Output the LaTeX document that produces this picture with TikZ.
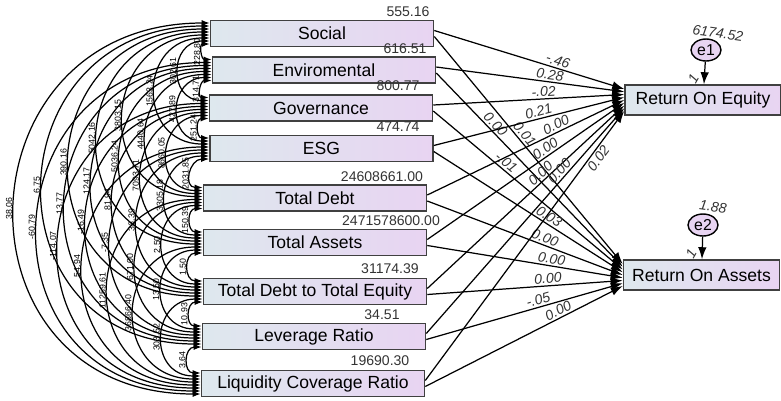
\documentclass[tikz,border=0pt]{standalone}
\usepackage{fontspec}
\setmainfont{Liberation Sans}
\usepackage{xcolor}
\usepackage{tikz}
\usetikzlibrary{shapes.geometric, arrows.meta, calc}
\definecolor{boxblue}{RGB}{222,232,238}
\definecolor{boxlilac}{RGB}{232,212,242}
\tikzset{
  varbox/.style={
    draw=black!75, line width=0.9pt, left color=boxblue, right color=boxlilac,
    minimum width=4.46cm, minimum height=0.52cm, inner sep=0pt,
    font=\fontsize{10}{12}\selectfont
  },
  outbox/.style={varbox, minimum width=3.12cm, minimum height=0.6cm},
  errnode/.style={ellipse, draw, line width=0.8pt, fill=boxlilac, minimum width=0.6cm,
    minimum height=0.44cm, inner sep=0pt, font=\fontsize{9}{10}\selectfont},
  varlab/.style={font=\fontsize{8}{9}\selectfont, text=black!80, inner sep=0pt},
  errlab/.style={font=\fontsize{8}{9}\selectfont\itshape, text=black!80, inner sep=0pt},
  pathlab/.style={font=\fontsize{8}{9}\selectfont\itshape, text=black!80, sloped, above, inner sep=1pt},
  regarrow/.style={-{Latex[length=2.4mm, width=1.7mm]}, line width=0.7pt},
  covarc/.style={{Latex[length=1.6mm, width=1.2mm]}-{Latex[length=1.6mm, width=1.2mm]}, line width=0.7pt},
  covlab/.style={font=\fontsize{5}{6}\selectfont, rotate=90, anchor=south, inner sep=1pt},
}
\begin{document}
\begin{tikzpicture}[x=0.02cm, y=-0.02cm]
  \useasboundingbox (0,0) rectangle (781,400);

  % Observed predictors
  \node[varbox] (b1) at (322,33.5) {Social};
  \node[varbox] (b2) at (324,70) {Enviromental};
  \node[varbox] (b3) at (321,108) {Governance};
  \node[varbox] (b4) at (321.5,148.5) {ESG};
  \node[varbox] (b5) at (315,198) {Total Debt};
  \node[varbox] (b6) at (315,242.5) {Total Assets};
  \node[varbox] (b7) at (315,291.5) {Total Debt to Total Equity};
  \node[varbox] (b8) at (314,336.5) {Leverage Ratio};
  \node[varbox] (b9) at (313,383.5) {Liquidity Coverage Ratio};

  % Variances
  \node[varlab] (v1) at (408,12) {555.16};
  \node[varlab] (v2) at (405,49) {616.51};
  \node[varlab] (v3) at (398,86) {800.77};
  \node[varlab] (v4) at (398,127) {474.74};
  \node[varlab] (v5) at (382,177) {24608661.00};
  \node[varlab] (v6) at (391,221) {2471578600.00};
  \node[varlab] (v7) at (390,269) {31174.39};
  \node[varlab] (v8) at (382,315) {34.51};
  \node[varlab] (v9) at (380,361) {19690.30};

  % Outcomes and errors
  \node[outbox] (roe) at (703,100) {Return On Equity};
  \node[outbox] (roa) at (701.5,275) {Return On Assets};
  \node[errnode] (e1) at (706,50) {e1};
  \node[errnode] (e2) at (703,225) {e2};
  \node[errlab, rotate=-8] (ev1) at (718,33) {6174.52};
  \node[errlab, rotate=-8] (ev2) at (713,207) {1.88};
  \draw[regarrow] (e1) -- node[errlab, pos=0.6, left=5pt, rotate=60] {1} (roe);
  \draw[regarrow] (e2) -- node[errlab, pos=0.6, left=5pt, rotate=60] {1} (roa);

  % Regression paths
  \foreach \i/\la/\pa/\lb/\pb in {1/-.46/0.64/0.01/0.45, 2/0.28/0.60/0.00/0.29,
      3/-.02/0.58/-.01/0.36, 4/0.21/0.56/0.03/0.59, 5/0.00/0.67/0.00/0.59,
      6/0.00/0.62/0.00/0.63, 7/0.00/0.60/0.00/0.62, 8/0.00/0.70/-.05/0.58} {
    \pgfmathsetmacro\ye{-11+2.75*(\i-1)}
    \draw[regarrow] ($(b\i.east)+(0,-3)$) -- node[pathlab, pos=\pa] {\la} ($(roe.west)+(0,\ye)$);
    \draw[regarrow] ($(b\i.east)+(0,3)$) -- node[pathlab, pos=\pb] {\lb} ($(roa.west)+(0,\ye)$);
  }
  \draw[regarrow] ($(b9.east)+(0,-3)$) -- node[pathlab, pos=0.84, below] {0.02} ($(roe.west)+(0,11)$);
  \draw[regarrow] ($(b9.east)+(0,3)$) -- node[pathlab, pos=0.69] {0.00} ($(roa.west)+(0,11)$);

  % Covariances
  \foreach \i/\j/\lab in {1/9/38.06, 1/8/6.75, 2/9/-60.79, 1/7/390.16, 2/8/13.77,
      3/9/-114.07, 1/6/5042.16, 2/7/124.17, 3/8/-16.49, 4/9/54.94, 1/5/3803.15,
      2/6/5036.24, 3/7/81.94, 4/8/-7.35, 5/9/11259.61, 1/4/1563.24, 2/5/4440.64,
      3/6/7093.71, 4/7/36.39, 5/8/671.00, 6/9/36866.40, 1/3/302.61, 2/4/427.89,
      3/5/8660.05, 4/6/3305.18, 5/7/2.50, 6/8/13.50, 7/9/303.52, 1/2/228.80,
      2/3/314.71, 3/4/251.24, 4/5/2031.85, 5/6/150.39, 6/7/1.50, 7/8/10.93,
      8/9/3.64} {
    \pgfmathsetmacro\oi{-10.5+3*((\i-1)+(9-\j))}
    \pgfmathsetmacro\oj{-10.5+3*(\j-1-\i)}
    \draw[covarc] ($(b\i.west)+(0,\oi)$) to[out=180, in=180, looseness=1.75]
      node[covlab] {\lab} ($(b\j.west)+(0,\oj)$);
  }
\end{tikzpicture}
\end{document}
